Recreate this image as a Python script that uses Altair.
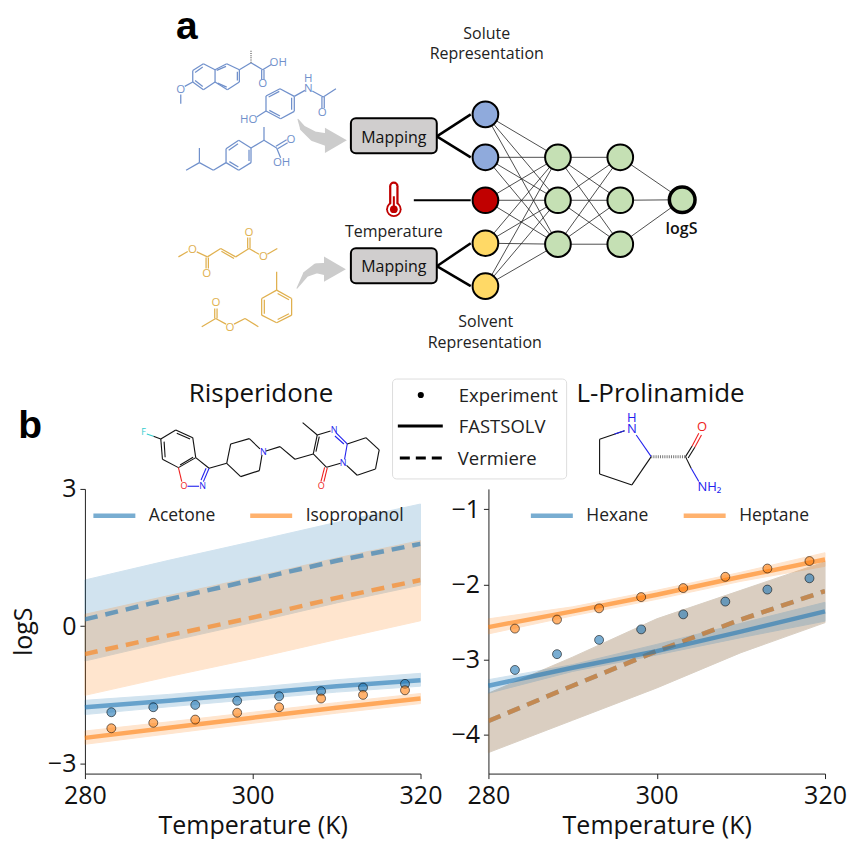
import altair as alt
import pandas as pd

FONT = "Open Sans"
BLUE = "#1f77b4"
ORANGE = "#ff7f0e"

# ---------- panel data ----------
exp_t = [283.15, 288.15, 293.15, 298.15, 303.15, 308.15, 313.15, 318.15]
grid_t = [280, 290, 300, 310, 320]

# Risperidone
ris_exp_acetone = [-1.88, -1.77, -1.72, -1.63, -1.53, -1.42, -1.34, -1.26]
ris_exp_ipa = [-2.23, -2.11, -2.04, -1.89, -1.77, -1.58, -1.50, -1.40]
ris_fs_acetone = [-1.77, -1.63, -1.47, -1.31, -1.18]
ris_fs_acetone_hi = [-1.62, -1.49, -1.34, -1.17, -1.03]
ris_fs_acetone_lo = [-1.93, -1.76, -1.60, -1.44, -1.31]
ris_fs_ipa = [-2.44, -2.22, -2.00, -1.78, -1.58]
ris_fs_ipa_hi = [-2.29, -2.09, -1.88, -1.67, -1.47]
ris_fs_ipa_lo = [-2.58, -2.35, -2.12, -1.90, -1.69]
ris_ve_acetone = [0.15, 0.59, 1.01, 1.43, 1.80]
ris_ve_acetone_hi = [1.01, 1.44, 1.85, 2.27, 2.67]
ris_ve_acetone_lo = [-0.76, -0.33, 0.08, 0.51, 0.90]
ris_ve_ipa = [-0.61, -0.20, 0.19, 0.62, 1.01]
ris_ve_ipa_hi = [0.26, 0.67, 1.07, 1.49, 1.87]
ris_ve_ipa_lo = [-1.51, -1.10, -0.71, -0.29, 0.12]

# L-Prolinamide
pro_exp_hexane = [-3.14, -2.93, -2.74, -2.60, -2.40, -2.23, -2.07, -1.92]
pro_exp_heptane = [-2.59, -2.47, -2.32, -2.17, -2.05, -1.90, -1.79, -1.69]
pro_fs_hexane = [-3.35, -3.11, -2.89, -2.63, -2.36]
pro_fs_hexane_hi = [-3.27, -3.07, -2.80, -2.52, -2.24]
pro_fs_hexane_lo = [-3.45, -3.16, -2.94, -2.71, -2.49]
pro_fs_heptane = [-2.57, -2.36, -2.14, -1.90, -1.67]
pro_fs_heptane_hi = [-2.46, -2.30, -2.08, -1.84, -1.58]
pro_fs_heptane_lo = [-2.66, -2.42, -2.20, -1.96, -1.76]
pro_ve = [-3.82, -3.35, -2.89, -2.47, -2.09]
pro_ve_hi = [-3.45, -2.97, -2.46, -2.08, -1.70]
pro_ve_lo = [-4.24, -3.81, -3.38, -2.91, -2.51]


def rows_exp(series):
    return pd.DataFrame([{"t": t, "v": v, "s": s} for s, vals in series.items() for t, v in zip(exp_t, vals)])


def rows_line(series):
    return pd.DataFrame(
        [{"t": t, "v": v, "hi": h, "lo": l, "s": s}
         for s, (vals, his, los) in series.items()
         for t, v, h, l in zip(grid_t, vals, his, los)]
    )


def panel_layers(exp, fs, ve, names, ydomain, yticks, ytitle, legend_x):
    cscale = alt.Scale(domain=names, range=[BLUE, ORANGE])
    xs = alt.Scale(domain=[280, 320], nice=False)
    ys = alt.Scale(domain=ydomain, nice=False)
    xaxis = alt.Axis(values=[280, 300, 320], title="Temperature (K)", grid=False, format="d",
                     tickSize=5, labelPadding=5, titlePadding=5, labelFlush=False, labelOverlap=False)
    yaxis = alt.Axis(values=yticks, title=ytitle, grid=False, tickSize=5, labelPadding=4, titlePadding=11,
                     format="d", labelOverlap=False)
    x_none = alt.X("t:Q", scale=xs, axis=None)
    y_none = alt.Y("v:Q", scale=ys, axis=None)
    stroke = alt.Stroke("s:N", scale=cscale, legend=None)

    layers = []
    first = True
    for df in (ve, fs):
        band = alt.Chart(df).mark_area(opacity=0.2, strokeWidth=1).encode(
            x=alt.X("t:Q", scale=xs, axis=xaxis if first else None),
            y=alt.Y("lo:Q", scale=ys, axis=yaxis if first else None),
            y2="hi:Q", fill=alt.Fill("s:N", scale=cscale, legend=None), stroke=stroke,
            detail="s:N",
        )
        layers.append(band)
        first = False
    layers.append(alt.Chart(ve).mark_line(strokeWidth=4.5, opacity=0.6, strokeDash=[13, 8], clip=True).encode(
        x=x_none, y=y_none, stroke=stroke, detail="s:N"))
    legend = alt.Legend(orient="none", legendX=legend_x, legendY=3, columns=2, title=None, symbolType="stroke",
                        symbolSize=1764, symbolStrokeWidth=4.5, symbolOpacity=0.6, labelFont=FONT,
                        labelFontSize=17.5, labelColor="#222222", labelOffset=11, columnPadding=25, padding=0)
    layers.append(alt.Chart(fs).mark_line(strokeWidth=4.5, opacity=0.6).encode(
        x=x_none, y=y_none, stroke=alt.Stroke("s:N", scale=cscale, legend=legend), detail="s:N"))
    layers.append(alt.Chart(exp).mark_point(filled=True, size=80, fillOpacity=0.6, stroke="#000000",
                                            strokeOpacity=0.55, strokeWidth=1).encode(
        x=x_none, y=y_none, fill=alt.Fill("s:N", scale=cscale, legend=None)))
    return layers


left_layers = panel_layers(
    rows_exp({"Acetone": ris_exp_acetone, "Isopropanol": ris_exp_ipa}),
    rows_line({"Acetone": (ris_fs_acetone, ris_fs_acetone_hi, ris_fs_acetone_lo),
               "Isopropanol": (ris_fs_ipa, ris_fs_ipa_hi, ris_fs_ipa_lo)}),
    rows_line({"Acetone": (ris_ve_acetone, ris_ve_acetone_hi, ris_ve_acetone_lo),
               "Isopropanol": (ris_ve_ipa, ris_ve_ipa_hi, ris_ve_ipa_lo)}),
    ["Acetone", "Isopropanol"], [-3.22, 3.0], [-3, 0, 3], "logS", 6,
)
right_layers = panel_layers(
    rows_exp({"Hexane": pro_exp_hexane, "Heptane": pro_exp_heptane}),
    rows_line({"Hexane": (pro_fs_hexane, pro_fs_hexane_hi, pro_fs_hexane_lo),
               "Heptane": (pro_fs_heptane, pro_fs_heptane_hi, pro_fs_heptane_lo)}),
    rows_line({"Hexane": (pro_ve, pro_ve_hi, pro_ve_lo),
               "Heptane": (pro_ve, pro_ve_hi, pro_ve_lo)}),
    ["Hexane", "Heptane"], [-4.52, -0.73], [-4, -3, -2, -1], None, 40,
)


# ---------- schematic (drawn in page pixels on its own scales) ----------
def z3(p): return (150 + p[0] / 3, p[1] / 3)
def z1(p): return (p[0] / 3, 370 + p[1] / 3)
def z2(p): return (430 + p[0] / 3, 370 + p[1] / 3)


segs = []


def poly(pts, color, width=1.0, tf=None, closed=False):
    pts = [tf(p) if tf else p for p in pts]
    if closed:
        pts = pts + [pts[0]]
    for a, b in zip(pts[:-1], pts[1:]):
        segs.append({"x": a[0], "y": a[1], "x2": b[0], "y2": b[1], "c": color, "w": width})


MB = "#7090cb"
MY = "#e0b04e"
W = 1.25
# naproxen
poly([(128, 210), (160, 190), (195, 208), (195, 245), (160, 268), (128, 245)], MB, W, z3, True)
poly([(195, 208), (230, 190), (268, 208), (268, 245), (232, 268), (195, 245)], MB, W, z3)
poly([(135, 216), (158, 200)], MB, W, z3); poly([(135, 240), (158, 258)], MB, W, z3)
poly([(200, 210), (228, 198)], MB, W, z3); poly([(262, 214), (262, 240)], MB, W, z3); poly([(203, 248), (230, 260)], MB, W, z3)
poly([(128, 245), (104, 258)], MB, W, z3); poly([(92, 282), (92, 310)], MB, W, z3)
poly([(268, 208), (303, 187), (338, 208), (364, 192)], MB, W, z3)
poly([(335, 208), (335, 238)], MB, W, z3); poly([(342, 208), (342, 238)], MB, W, z3)
# paracetamol
poly([(348, 287), (390, 265), (433, 288), (433, 333), (392, 355), (348, 332)], MB, W, z3, True)
poly([(356, 290), (388, 273)], MB, W, z3); poly([(425, 292), (425, 328)], MB, W, z3); poly([(358, 330), (390, 347)], MB, W, z3)
poly([(433, 288), (465, 270)], MB, W, z3); poly([(487, 272), (520, 290), (558, 265)], MB, W, z3)
poly([(516, 290), (516, 323)], MB, W, z3); poly([(523, 290), (523, 323)], MB, W, z3)
poly([(348, 332), (320, 350)], MB, W, z3)
# ibuprofen
poly([(228, 445), (266, 420), (303, 443), (303, 487), (266, 510), (228, 487)], MB, W, z3, True)
poly([(236, 450), (264, 430)], MB, W, z3); poly([(297, 448), (297, 482)], MB, W, z3); poly([(238, 484), (265, 500)], MB, W, z3)
poly([(228, 487), (190, 510), (148, 487), (148, 443)], MB, W, z3); poly([(148, 487), (108, 510)], MB, W, z3)
poly([(303, 443), (342, 420), (342, 380)], MB, W, z3); poly([(342, 420), (380, 443), (392, 472)], MB, W, z3)
poly([(378, 438), (410, 418)], MB, W, z3); poly([(383, 445), (413, 427)], MB, W, z3)
# dimethyl fumarate
poly([(85, 770), (113, 754)], MY, W, z3); poly([(140, 755), (172, 770), (212, 745), (257, 770), (297, 745), (327, 762)], MY, W, z3)
poly([(214, 753), (252, 775)], MY, W, z3)
poly([(168, 772), (168, 805)], MY, W, z3); poly([(175, 772), (175, 805)], MY, W, z3)
poly([(293, 745), (293, 712)], MY, W, z3); poly([(300, 745), (300, 712)], MY, W, z3)
poly([(352, 762), (382, 745)], MY, W, z3)
# ethyl acetate
poly([(155, 980), (197, 955), (228, 972)], MY, W, z3); poly([(252, 972), (285, 955), (325, 980)], MY, W, z3)
poly([(194, 955), (194, 925)], MY, W, z3); poly([(201, 955), (201, 925)], MY, W, z3)
# toluene
poly([(380, 870), (425, 895), (425, 945), (380, 968), (335, 945), (335, 895)], MY, W, z3, True)
poly([(380, 870), (380, 815)], MY, W, z3)
poly([(343, 899), (343, 941)], MY, W, z3); poly([(383, 880), (417, 899)], MY, W, z3); poly([(383, 958), (417, 941)], MY, W, z3)

# risperidone
K = "#111111"
NB = "#2222ee"
OR = "#ee2222"
W2 = 1.1
poly([(482, 207), (527, 180), (578, 203), (587, 263), (535, 293), (487, 268)], K, W2, z1, True)
poly([(530, 190), (570, 207)], K, W2, z1); poly([(579, 262), (540, 285)], K, W2, z1); poly([(492, 215), (495, 262)], K, W2, z1)
poly([(482, 207), (460, 199)], K, W2, z1); poly([(460, 199), (440, 192)], "#33cccc", W2, z1)
poly([(587, 263), (627, 295)], K, W2, z1); poly([(627, 295), (610, 335)], NB, W2, z1); poly([(618, 295), (603, 330)], NB, W2, z1)
poly([(535, 293), (545, 335)], OR, W2, z1); poly([(562, 349), (597, 349)], NB, W2, z1)
poly([(627, 295), (680, 280), (692, 222), (748, 206), (780, 237)], K, W2, z1)
poly([(680, 280), (722, 320), (778, 302), (786, 255)], K, W2, z1)
poly([(798, 243), (840, 230), (885, 268), (940, 252), (952, 195), (992, 183)], K, W2, z1)
poly([(948, 245), (958, 200)], K, W2, z1)
poly([(940, 252), (980, 292), (1022, 280)], K, W2, z1)
poly([(952, 195), (908, 158)], K, W2, z1)
poly([(1008, 188), (1042, 222), (1034, 268)], NB, W2, z1)
poly([(1005, 198), (1032, 222)], NB, W2, z1)
poly([(974, 292), (963, 335)], OR, W2, z1); poly([(982, 294), (972, 335)], OR, W2, z1)
poly([(1042, 222), (1098, 203), (1138, 240), (1127, 297), (1072, 316), (1040, 286)], K, W2, z1)
# prolinamide
poly([(585, 182), (510, 208), (510, 312), (607, 345), (665, 260)], K, W2, z2)
poly([(585, 182), (555, 192)], NB, W2, z2); poly([(620, 195), (665, 260)], NB, W2, z2)
poly([(768, 260), (788, 228)], K, W2, z2); poly([(788, 228), (808, 190)], OR, W2, z2)
poly([(776, 264), (796, 232)], K, W2, z2); poly([(796, 232), (816, 195)], OR, W2, z2)
poly([(768, 260), (785, 295)], K, W2, z2); poly([(785, 295), (808, 335)], NB, W2, z2)

# network: thin links
inputs = [(485.7, 114), (485.7, 157), (485.7, 200), (485.7, 243), (485.7, 286)]
hidden1 = [(558.3, 157), (558.3, 200), (558.3, 244)]
hidden2 = [(620.7, 157), (620.7, 200), (620.7, 244)]
output = [(682.7, 199.5)]
for a_col, b_col in ((inputs, hidden1), (hidden1, hidden2), (hidden2, output)):
    for a in a_col:
        for b in b_col:
            poly([a, b], "#222222", 0.8)
# thick links
for a, b in (((437, 136), (471, 114)), ((437, 136), (471, 157)), ((437, 266), (471, 243)), ((437, 266), (471, 286))):
    poly([a, b], "#000000", 2.5)
poly([(414, 200), (471, 200)], "#000000", 2.0)

nodes = (
    [{"x": p[0], "y": p[1], "f": "#8faadc", "sw": 2.0, "r": 660} for p in inputs[:2]]
    + [{"x": inputs[2][0], "y": inputs[2][1], "f": "#c00000", "sw": 2.0, "r": 660}]
    + [{"x": p[0], "y": p[1], "f": "#ffd966", "sw": 2.0, "r": 660} for p in inputs[3:]]
    + [{"x": p[0], "y": p[1], "f": "#c5e0b4", "sw": 2.0, "r": 660} for p in hidden1 + hidden2]
    + [{"x": output[0][0], "y": output[0][1], "f": "#c5e0b4", "sw": 3.5, "r": 660}]
)

center_text = [
    ("Solute", 487, 39, 16, "#222222"), ("Representation", 487, 59, 16, "#222222"),
    ("Solvent", 486, 327, 16, "#222222"), ("Representation", 485, 348, 16, "#222222"),
    ("Temperature", 394, 237, 16, "#222222"),
    ("Mapping", 394, 143, 16, "#111111"), ("Mapping", 394, 272, 16, "#111111"),
    ("Risperidone", 261, 402, 26, "#111111"), ("L-Prolinamide", 661, 402, 26, "#111111"),
]
# atom labels
atoms = [
    ("O", *z3((92, 268)), 11.5, MB), ("OH", *z3((385, 187)), 11.5, MB), ("O", *z3((338, 250)), 11.5, MB),
    ("N", *z3((475, 265)), 11.5, MB), ("H", *z3((475, 237)), 11.5, MB), ("O", *z3((517, 337)), 11.5, MB), ("HO", *z3((296, 360)), 11.5, MB),
    ("O", *z3((423, 420)), 11.5, MB), ("OH", *z3((395, 487)), 11.5, MB),
    ("O", *z3((127, 748)), 11.5, MY), ("O", *z3((170, 822)), 11.5, MY), ("O", *z3((297, 698)), 11.5, MY), ("O", *z3((340, 770)), 11.5, MY),
    ("O", *z3((198, 908)), 11.5, MY), ("O", *z3((240, 983)), 11.5, MY),
    ("F", *z1((430, 186)), 9, "#33cccc"), ("O", *z1((552, 349)), 9, OR), ("N", *z1((608, 349)), 9, NB),
    ("N", *z1((790, 245)), 9, NB), ("N", *z1((1003, 181)), 9, NB), ("N", *z1((1030, 278)), 9, NB), ("O", *z1((964, 348)), 9, OR),
    ("N", *z2((607, 178)), 13, NB), ("H", *z2((607, 145)), 13, NB), ("O", *z2((818, 172)), 13, OR), ("NH\u2082", *z2((840, 352)), 13, NB),
]

left_text = [
    ("Experiment", 459, 402), ("FASTSOLV", 459, 433), ("Vermiere", 458, 465),
]

px = alt.Scale(domain=[84.7, 420.7], nice=False, zero=False)
py = alt.Scale(domain=[774, 489], nice=False, zero=False)
X = alt.X("x:Q", scale=px, axis=None)
Y = alt.Y("y:Q", scale=py, axis=None)
X2 = alt.X2("x2:Q")
Y2 = alt.Y2("y2:Q")

anchor = alt.Chart(pd.DataFrame([{"x": 8, "x2": 848, "y": 8, "y2": 837}])).mark_rect(fill="transparent").encode(x=X, x2=X2, y=Y, y2=Y2)

boxes = alt.Chart(pd.DataFrame([
    {"x": 351, "x2": 437, "y": 118, "y2": 153},
    {"x": 351, "x2": 437, "y": 248, "y2": 283},
])).mark_rect(fill="#d0cece", stroke="#000000", strokeWidth=2, cornerRadius=5).encode(x=X, x2=X2, y=Y, y2=Y2)

legend_box = alt.Chart(pd.DataFrame([{"x": 392.7, "x2": 567, "y": 379, "y2": 479}])).mark_rect(
    fill="#ffffff", stroke="#dddddd", strokeWidth=1, cornerRadius=4).encode(x=X, x2=X2, y=Y, y2=Y2)

dash_swatch = alt.Chart(pd.DataFrame([{"x": 400, "x2": 443, "y": 458, "y2": 458}])).mark_rule(
    stroke="#000000", strokeWidth=3, strokeDash=[10, 6]).encode(x=X, x2=X2, y=Y, y2=Y2)
solid_swatch = alt.Chart(pd.DataFrame([{"x": 398, "x2": 443, "y": 426, "y2": 426}])).mark_rule(
    stroke="#000000", strokeWidth=3).encode(x=X, x2=X2, y=Y, y2=Y2)
legend_dot = alt.Chart(pd.DataFrame([{"x": 421, "y": 395}])).mark_point(
    filled=True, color="#000000", size=38, opacity=1).encode(x=X, y=Y)

hash_bonds = alt.Chart(pd.DataFrame([
    dict(zip(("x", "y"), z3((303, 187)))) | dict(zip(("x2", "y2"), z3((303, 150)))) | {"w": 1.5},
    dict(zip(("x", "y"), z2((665, 260)))) | dict(zip(("x2", "y2"), z2((768, 260)))) | {"w": 3},
])).mark_rule(stroke="#777777", strokeDash=[1, 1.2]).encode(
    x=X, x2=X2, y=Y, y2=Y2, strokeWidth=alt.StrokeWidth("w:Q", scale=None))

lines = alt.Chart(pd.DataFrame(segs)).mark_rule().encode(
    x=X, x2=X2, y=Y, y2=Y2,
    stroke=alt.Stroke("c:N", scale=None), strokeWidth=alt.StrokeWidth("w:Q", scale=None))

arrow_tail = pd.DataFrame(
    [{"a": 1, "o": i, "x": x, "y": y, "w": w} for i, (x, y, w) in enumerate([(298, 119, 1), (303, 128, 6), (314, 136, 10), (329, 140, 13)])]
    + [{"a": 2, "o": i, "x": x, "y": y, "w": w} for i, (x, y, w) in enumerate([(297, 288, 1), (306, 274, 6), (317, 268, 10), (328, 269, 13)])]
)
arrows = alt.Chart(arrow_tail).mark_trail(color="#cccccc").encode(
    x=X, y=Y, detail="a:N", order="o:Q", size=alt.Size("w:Q", scale=None))
arrow_heads = alt.Chart(pd.DataFrame([{"x": 336, "y": 140}, {"x": 335, "y": 269}])).mark_point(
    shape="triangle-right", filled=True, size=640, color="#cccccc", opacity=1).encode(x=X, y=Y)

circles = alt.Chart(pd.DataFrame(nodes)).mark_point(filled=True, stroke="#000000", opacity=1).encode(
    x=X, y=Y, fill=alt.Fill("f:N", scale=None), size=alt.Size("r:Q", scale=None),
    strokeWidth=alt.StrokeWidth("sw:Q", scale=None))

# thermometer
RED = "#c00000"
therm_outer = alt.Chart(pd.DataFrame([{"x": 394, "y": 186, "y2": 206}])).mark_rule(
    stroke=RED, strokeWidth=9.5, strokeCap="round").encode(x=X, y=Y, y2=Y2)
therm_bulb = alt.Chart(pd.DataFrame([{"x": 394, "y": 209}])).mark_point(filled=True, color=RED, size=240, opacity=1).encode(x=X, y=Y)
therm_white = alt.Chart(pd.DataFrame([{"x": 394, "y": 186, "y2": 206}])).mark_rule(
    stroke="#ffffff", strokeWidth=5, strokeCap="round").encode(x=X, y=Y, y2=Y2)
therm_bulb_w = alt.Chart(pd.DataFrame([{"x": 394, "y": 209}])).mark_point(filled=True, color="#ffffff", size=140, opacity=1).encode(x=X, y=Y)
therm_merc = alt.Chart(pd.DataFrame([{"x": 394, "y": 196, "y2": 208}])).mark_rule(
    stroke=RED, strokeWidth=2).encode(x=X, y=Y, y2=Y2)
therm_dot = alt.Chart(pd.DataFrame([{"x": 394, "y": 209}])).mark_point(filled=True, color=RED, size=60, opacity=1).encode(x=X, y=Y)

txt_center = alt.Chart(pd.DataFrame(center_text, columns=["t", "x", "y", "fs", "c"])).mark_text(
    font=FONT, align="center", baseline="alphabetic").encode(
    x=X, y=Y, text="t:N", size=alt.Size("fs:Q", scale=None), color=alt.Color("c:N", scale=None))
txt_atoms = alt.Chart(pd.DataFrame(atoms, columns=["t", "x", "y", "fs", "c"])).mark_text(
    font=FONT, align="center", baseline="middle").encode(
    x=X, y=Y, text="t:N", size=alt.Size("fs:Q", scale=None), color=alt.Color("c:N", scale=None))
txt_left = alt.Chart(pd.DataFrame(left_text, columns=["t", "x", "y"])).mark_text(
    font=FONT, align="left", baseline="alphabetic", fontSize=18.5, color="#222222").encode(x=X, y=Y, text="t:N")
txt_tag = alt.Chart(pd.DataFrame([("a", 176, 39), ("b", 18, 438)], columns=["t", "x", "y"])).mark_text(
    font="Liberation Sans", fontWeight="bold", align="left", baseline="alphabetic", fontSize=39, color="#000000").encode(x=X, y=Y, text="t:N")
txt_logs = alt.Chart(pd.DataFrame([("logS", 682, 234)], columns=["t", "x", "y"])).mark_text(
    font=FONT, fontWeight=600, align="center", baseline="alphabetic", fontSize=16, color="#111111").encode(x=X, y=Y, text="t:N")

schematic = [anchor, arrows, arrow_heads, lines, hash_bonds, boxes, circles,
             therm_outer, therm_bulb, therm_white, therm_bulb_w, therm_merc, therm_dot,
             legend_box, dash_swatch, solid_swatch, legend_dot, txt_center, txt_atoms, txt_left, txt_tag, txt_logs]

left = alt.layer(*left_layers, *schematic).resolve_scale(
    x="independent", y="independent", color="independent", fill="independent", stroke="independent",
    size="independent", strokeWidth="independent",
).properties(width=336, height=285)

right = alt.layer(*right_layers).resolve_scale(
    x="independent", y="independent", color="independent", fill="independent", stroke="independent",
).properties(width=337, height=285)

chart = alt.hconcat(left, right, spacing=68).properties(
    bounds="flush", padding=0, background="white"
).configure_view(stroke=None).configure_axis(
    labelFont=FONT, titleFont=FONT, labelFontSize=25, titleFontSize=25, labelColor="#111111", titleColor="#111111",
    titleFontWeight="normal", domainColor="#222222", tickColor="#222222", domainWidth=1, tickWidth=1,
)

chart.save("out.html", embed_options={"renderer": "svg", "actions": False})
